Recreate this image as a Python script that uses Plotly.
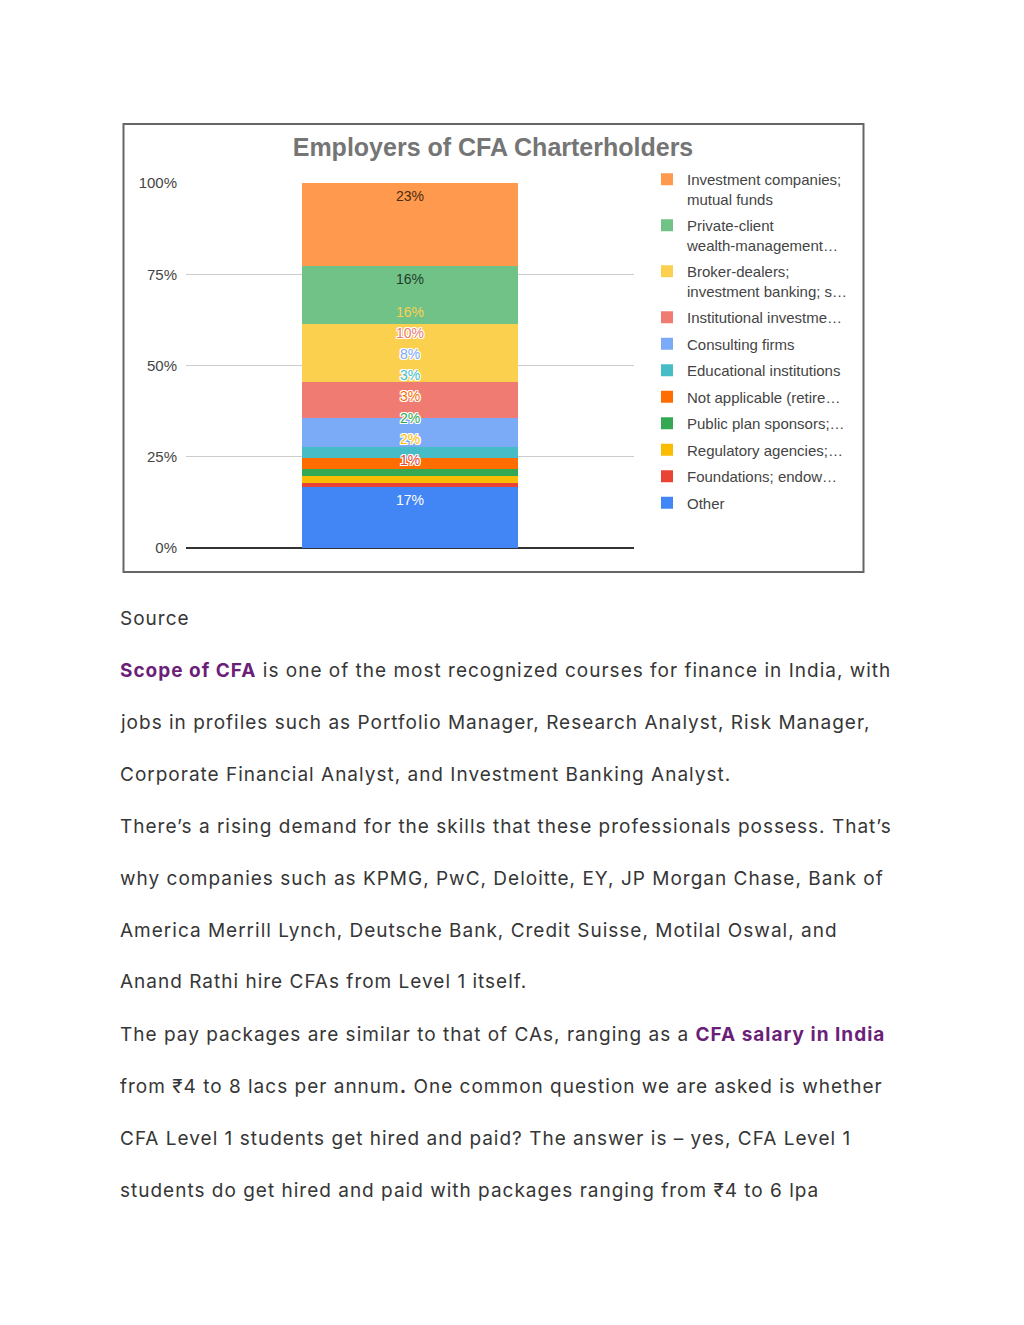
import plotly.graph_objects as go

# ---------------- data ----------------
series_names = [
    "Other",
    "Foundations; endow…",
    "Regulatory agencies;…",
    "Public plan sponsors;…",
    "Not applicable (retire…",
    "Educational institutions",
    "Consulting firms",
    "Institutional investme…",
    "Broker-dealers;<br>investment banking; s…",
    "Private-client<br>wealth-management…",
    "Investment companies;<br>mutual funds",
]
series_values = [17, 1, 2, 2, 3, 3, 8, 10, 16, 16, 23]
category = ["CFA Charterholders"]
y_ticks = [0, 25, 50, 75, 100]
y_tick_labels = ["0%", "25%", "50%", "75%", "100%"]

title_text = "Employers of CFA Charterholders"
PURPLE = "#6b1f78"
body_lines = [
    "Source",
    f"<b><span style='color:{PURPLE}'>Scope of CFA</span></b> is one of the most recognized courses for finance in India, with",
    "jobs in profiles such as Portfolio Manager, Research Analyst, Risk Manager,",
    "Corporate Financial Analyst, and Investment Banking Analyst.",
    "There’s a rising demand for the skills that these professionals possess. That’s",
    "why companies such as KPMG, PwC, Deloitte, EY, JP Morgan Chase, Bank of",
    "America Merrill Lynch, Deutsche Bank, Credit Suisse, Motilal Oswal, and",
    "Anand Rathi hire CFAs from Level 1 itself.",
    f"The pay packages are similar to that of CAs, ranging as a <b><span style='color:{PURPLE}'>CFA salary in India</span></b>",
    "from ₹4 to 8 lacs per annum<b>.</b> One common question we are asked is whether",
    "CFA Level 1 students get hired and paid? The answer is – yes, CFA Level 1",
    "students do get hired and paid with packages ranging from ₹4 to 6 lpa",
]

# ---------------- styles ----------------
colors = ["#4285F4", "#EA4335", "#FBBC04", "#34A853", "#FF6D01", "#46BDC6",
          "#7BAAF7", "#F07B72", "#FCD04F", "#71C287", "#FF994D"]
inside_text_colors = {0: "#ffffff", 9: "#1f3d27", 10: "#4a2c14"}
CHART_FONT = "Liberation Sans, Arial, sans-serif"
BODY_FONT = "Inter, Lato, sans-serif"

W, H = 1024, 1325
PL, PR, PT, PB = 186, 634, 183, 548  # plot area in px


def px(x):
    return (x - PL) / (PR - PL)


def py(y):
    return (PB - y) / (PB - PT)


fig = go.Figure()
n = len(series_names)
for i, (name, val, col) in enumerate(zip(series_names, series_values, colors)):
    fig.add_trace(go.Bar(
        x=category, y=[val], name=name, legendgroup=name, legendrank=100 * (n - i),
        marker=dict(color=col, line=dict(width=0)),
        width=0.482, hoverinfo="name+y",
    ))

# ---------------- data labels (Google-charts-like stacking) ----------------
total = sum(series_values)
LABEL_DROP = 3.6   # label centre below segment top (in % units)
GAP = 5.8          # min spacing between labels
EXTRA = 5.1        # extra clearance when leaving fitting labels
HALO = ("1px 1px 0 #fff, -1px -1px 0 #fff, 1px -1px 0 #fff, -1px 1px 0 #fff, "
        "0 1px 0 #fff, 0 -1px 0 #fff, 1px 0 0 #fff, -1px 0 0 #fff")
annotations = []
cum = 0.0
prev = None
prev_fit = True
for i, v in enumerate(series_values):
    bottom = cum
    top = cum + v / total * 100
    cum = top
    ypos = top - LABEL_DROP
    if prev is not None:
        need = prev + GAP + (EXTRA if (prev_fit and v / total * 100 < 2 * LABEL_DROP) else 0)
        ypos = max(ypos, need)
    fits = (ypos - 1.5 >= bottom) and (ypos + 1.5 <= top)
    if fits and i in inside_text_colors:
        fcol, shadow = inside_text_colors[i], "none"
    else:
        fcol = colors[i]
        shadow = "none" if v >= 15 else HALO
    annotations.append(dict(
        x=category[0], y=ypos, xref="x", yref="y", text=f"{v}%", showarrow=False,
        font=dict(family=CHART_FONT, size=14, color=fcol, shadow=shadow),
        xanchor="center", yanchor="middle",
    ))
    prev, prev_fit = ypos, fits

# ---------------- body text ----------------
for k, line in enumerate(body_lines):
    ypix = 618 + 52 * k
    annotations.append(dict(
        x=px(118), y=py(ypix), xref="paper", yref="paper",
        text=f"<span style='letter-spacing:1px'>{line}</span>", showarrow=False,
        xanchor="left", yanchor="middle", align="left",
        font=dict(family=BODY_FONT, size=19, color="#363636"),
    ))

fig.update_layout(
    width=W, height=H,
    margin=dict(l=PL, r=W - PR, t=PT, b=H - PB, pad=0),
    paper_bgcolor="white", plot_bgcolor="white",
    barmode="stack", barnorm="percent",
    title=dict(text=f"<b>{title_text}</b>", x=493 / W, xref="container",
               y=1 - 147 / H, yref="container", xanchor="center", yanchor="middle",
               font=dict(family=CHART_FONT, size=25, color="#757575")),
    xaxis=dict(range=[-0.5, 0.5], visible=False, fixedrange=True),
    yaxis=dict(range=[0, 100], tickvals=y_ticks, ticktext=y_tick_labels,
               showgrid=True, gridcolor="#cccccc", gridwidth=1,
               zeroline=True, zerolinecolor="#333333", zerolinewidth=1.5,
               showline=False, ticks="", ticklabelstandoff=8,
               tickfont=dict(family=CHART_FONT, size=15, color="#444444"), fixedrange=True),
    showlegend=True,
    legend=dict(x=px(647), y=py(163), xanchor="left", yanchor="top",
                traceorder="grouped", tracegroupgap=4, valign="top",
                font=dict(family=CHART_FONT, size=15, color="#444444"),
                bgcolor="rgba(0,0,0,0)"),
    annotations=annotations,
    shapes=[dict(type="rect", xref="paper", yref="paper",
                 x0=px(123.5), x1=px(863.5), y0=py(572), y1=py(124),
                 line=dict(color="#666666", width=2), fillcolor="rgba(0,0,0,0)", layer="below")],
)

fig.write_html("out.html", config={"displayModeBar": False},
               post_script="document.body.style.margin='0';document.body.style.overflow='hidden';")
